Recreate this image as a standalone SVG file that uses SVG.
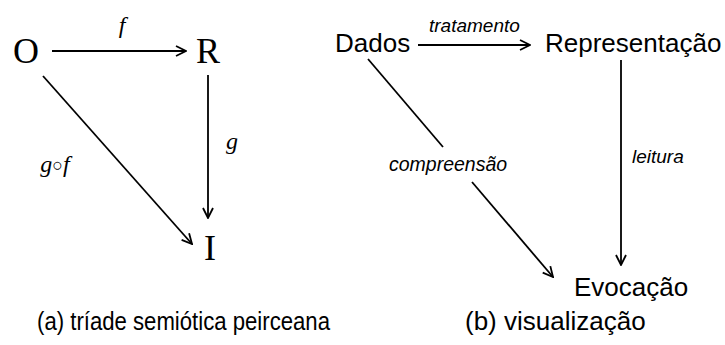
<svg xmlns="http://www.w3.org/2000/svg" width="725" height="345" viewBox="0 0 725 345">
<style>
.serif{font-family:"Liberation Serif","Times New Roman",serif;fill:#000}
.sans{font-family:"Liberation Sans",Arial,sans-serif;fill:#000}
.it{font-style:italic}
.ln{stroke:#000;stroke-width:1.8;fill:none}
</style>
<defs>
<marker id="ah" viewBox="0 0 12 12" refX="11" refY="6" markerWidth="12" markerHeight="12" markerUnits="userSpaceOnUse" orient="auto">
<path d="M1,1 L11,6 L1,11" fill="none" stroke="#000" stroke-width="1.8"/>
</marker>
</defs>
<rect width="725" height="345" fill="#fff"/>
<g id="connectors">
<line class="ln" x1="52" y1="51" x2="186" y2="51" marker-end="url(#ah)"/>
<line class="ln" x1="208" y1="75" x2="208" y2="218" marker-end="url(#ah)"/>
<line class="ln" x1="43" y1="76" x2="192" y2="244" marker-end="url(#ah)"/>
<line class="ln" x1="418" y1="45" x2="530" y2="45" marker-end="url(#ah)"/>
<line class="ln" x1="621" y1="60" x2="621" y2="265" marker-end="url(#ah)"/>
<line class="ln" x1="368" y1="59" x2="443" y2="147"/>
<line class="ln" x1="472" y1="182" x2="553" y2="277" marker-end="url(#ah)"/>
<text class="serif it" x="122" y="33" font-size="24" text-anchor="middle">f</text>
<text class="serif it" x="232" y="149" font-size="24" text-anchor="middle">g</text>
<text class="serif it" x="55" y="172" font-size="24" text-anchor="middle">g<tspan font-style="normal" font-size="18" dy="-1">○</tspan><tspan dy="1">f</tspan></text>
<text class="sans it" x="429" y="32" font-size="19">tratamento</text>
<text class="sans it" x="632" y="163" font-size="19">leitura</text>
<text class="sans it" x="389" y="171" font-size="19.5">compreensão</text>
</g>
<g id="node-O"><text class="serif" x="26" y="63" font-size="36" text-anchor="middle">O</text></g>
<g id="node-R"><text class="serif" x="208" y="63" font-size="36" text-anchor="middle">R</text></g>
<g id="node-I"><text class="serif" x="210" y="260" font-size="36" text-anchor="middle">I</text></g>
<g id="node-Dados"><text class="sans" x="335" y="52" font-size="26">Dados</text></g>
<g id="node-Representacao"><text class="sans" x="545" y="52" font-size="26">Representação</text></g>
<g id="node-Evocacao"><text class="sans" x="574" y="296" font-size="26">Evocação</text></g>
<g id="captions">
<text class="sans" x="37" y="330" font-size="25" textLength="293" lengthAdjust="spacingAndGlyphs">(a) tríade semiótica peirceana</text>
<text class="sans" x="465" y="330" font-size="26">(b) visualização</text>
</g>
</svg>
